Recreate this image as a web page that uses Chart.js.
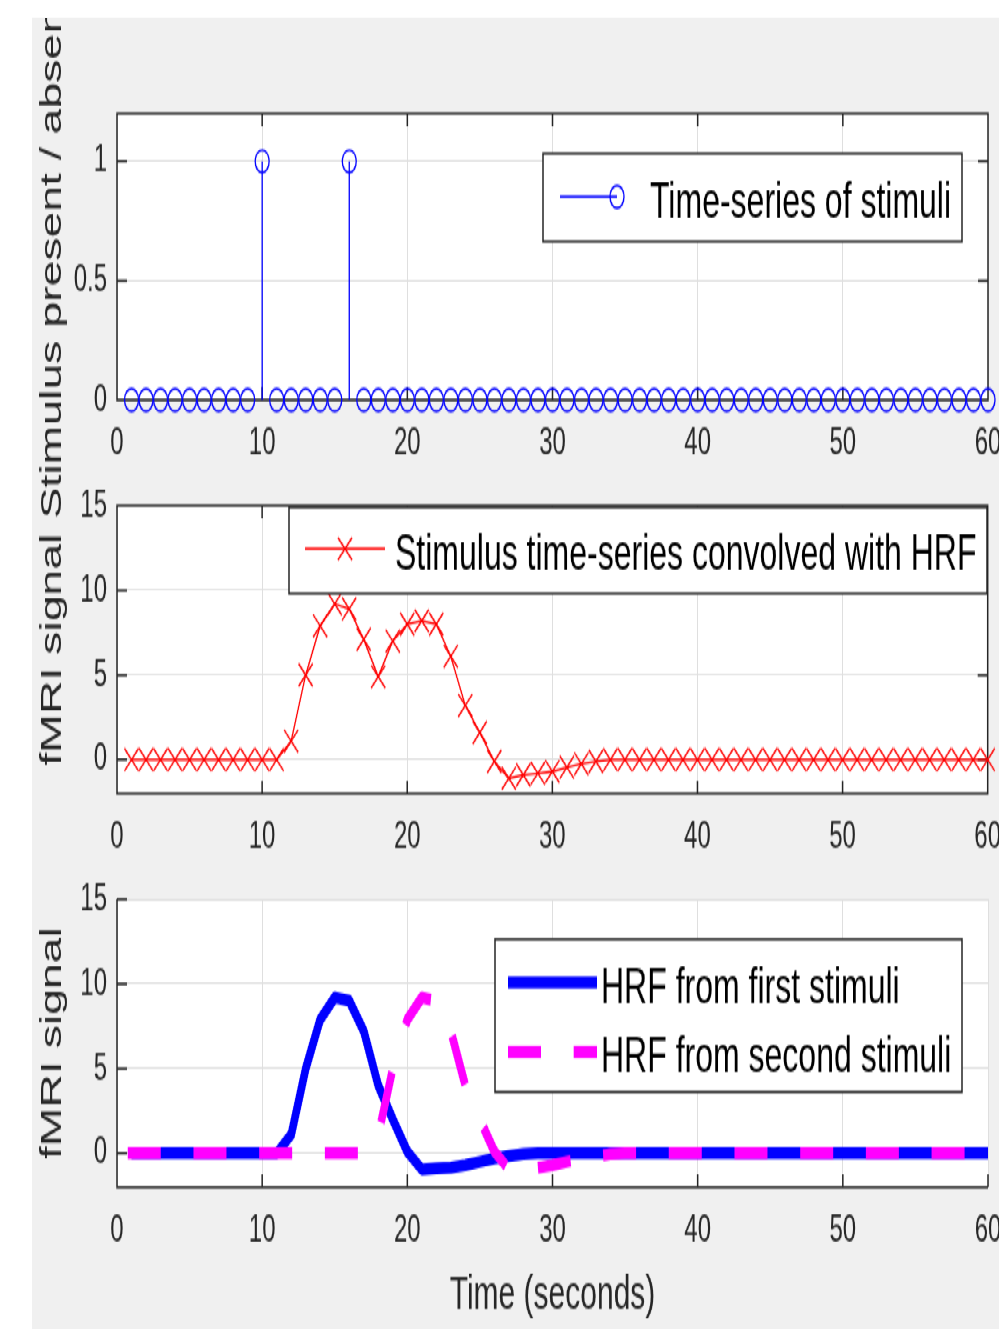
<!DOCTYPE html>
<html>
<head>
<meta charset="utf-8">
<title>Stimulus time-series and HRF</title>
<script src="https://cdn.jsdelivr.net/npm/chart.js@4.4.1/dist/chart.umd.min.js"></script>
<style>
  html, body { margin: 0; padding: 0; background: #fff; overflow: hidden; }
  /* the figure is laid out flat and stretched vertically, like the reference image */
  #fig { position: absolute; left: 0; top: 0; width: 999px; height: 831px; transform: scaleY(1.6); transform-origin: 0 0; }
  #bg { position: absolute; left: 32px; top: 10.6px; width: 967px; height: 821px; background: #f0f0f0; }
  #fig canvas { position: absolute; left: 0; }
</style>
</head>
<body>
<div id="fig">
  <div id="bg"></div>
  <canvas id="stimChart" width="999" height="319" style="top:11px"></canvas>
  <canvas id="convChart" width="999" height="260" style="top:296px"></canvas>
  <canvas id="hrfChart" width="999" height="289" style="top:542px"></canvas>
</div>
<script>
// ---- data (seconds 1..60) ----
const time = [1, 2, 3, 4, 5, 6, 7, 8, 9, 10, 11, 12, 13, 14, 15, 16, 17, 18, 19, 20,
              21, 22, 23, 24, 25, 26, 27, 28, 29, 30, 31, 32, 33, 34, 35, 36, 37, 38, 39, 40,
              41, 42, 43, 44, 45, 46, 47, 48, 49, 50, 51, 52, 53, 54, 55, 56, 57, 58, 59, 60];

const stimulus = [0, 0, 0, 0, 0, 0, 0, 0, 0, 1, 0, 0, 0, 0, 0, 1, 0, 0, 0, 0,
                  0, 0, 0, 0, 0, 0, 0, 0, 0, 0, 0, 0, 0, 0, 0, 0, 0, 0, 0, 0,
                  0, 0, 0, 0, 0, 0, 0, 0, 0, 0, 0, 0, 0, 0, 0, 0, 0, 0, 0, 0];

const convolved = [0, 0, 0, 0, 0, 0, 0, 0, 0, 0, 0, 1.1, 5.0, 7.9, 9.2, 8.9, 7.1, 4.9, 7.0, 8.0,
                   8.2, 8.0, 6.1, 3.2, 1.6, -0.1, -1.1, -0.9, -0.8, -0.7, -0.45, -0.25, -0.1, 0, 0, 0, 0, 0, 0, 0,
                   0, 0, 0, 0, 0, 0, 0, 0, 0, 0, 0, 0, 0, 0, 0, 0, 0, 0, 0, 0];

const hrfFirst = [0, 0, 0, 0, 0, 0, 0, 0, 0, 0, 0, 1.1, 5.0, 7.9, 9.2, 9.0, 7.2, 4.0, 2.0, 0.1,
                  -0.95, -0.9, -0.85, -0.7, -0.5, -0.3, -0.15, -0.05, 0, 0, 0, 0, 0, 0, 0, 0, 0, 0, 0, 0,
                  0, 0, 0, 0, 0, 0, 0, 0, 0, 0, 0, 0, 0, 0, 0, 0, 0, 0, 0, 0];

const hrfSecond = [0, 0, 0, 0, 0, 0, 0, 0, 0, 0, 0, 0, 0, 0, 0, 0, 0, 1.1, 5.0, 7.9,
                   9.2, 9.0, 7.2, 4.0, 2.0, 0.1, -0.95, -0.9, -0.85, -0.7, -0.5, -0.3, -0.15, -0.05, 0, 0, 0, 0, 0, 0,
                   0, 0, 0, 0, 0, 0, 0, 0, 0, 0, 0, 0, 0, 0, 0, 0, 0, 0, 0, 0];

const xTicks = [0, 10, 20, 30, 40, 50, 60];
const stimTicks = [0, 0.5, 1];
const signalTicks = [0, 5, 10, 15];

// ---- look ----
const AXIS_COLOR = '#262626';
const GRID_COLOR = '#dfdfdf';
const FONT = '"Liberation Sans", Arial, Helvetica, sans-serif';

const toPoints = (xs, ys) => xs.map((x, i) => ({x: x, y: ys[i]}));

// stem lines: 0 -> value, broken by nulls
function stemPoints(xs, ys) {
    const pts = [];
    xs.forEach((x, i) => {
        pts.push({x: x, y: 0}, {x: x, y: ys[i]}, {x: x, y: null});
    });
    return pts;
}

// MATLAB-like axes: white plot area, box, inside ticks, titles, legend
const matlabAxes = {
    id: 'matlabAxes',
    beforeDraw(chart) {
        const {ctx, chartArea: a} = chart;
        ctx.save();
        ctx.fillStyle = '#fff';
        ctx.fillRect(a.left, a.top, a.right - a.left, a.bottom - a.top);
        ctx.restore();
    },
    beforeDatasetsDraw(chart, args, opts) {
        const {ctx, chartArea: a} = chart;
        const xs = chart.scales.x, ys = chart.scales.y;
        ctx.save();
        ctx.strokeStyle = AXIS_COLOR;
        ctx.lineWidth = 1.5;
        ctx.beginPath();
        if (opts.box) {
            ctx.rect(a.left, a.top, a.right - a.left, a.bottom - a.top);
        } else {
            ctx.moveTo(a.left, a.top);
            ctx.lineTo(a.left, a.bottom);
            ctx.lineTo(a.right, a.bottom);
        }
        xs.ticks.forEach(t => {
            const px = xs.getPixelForValue(t.value);
            ctx.moveTo(px, a.bottom); ctx.lineTo(px, a.bottom - 8);
            if (opts.box) { ctx.moveTo(px, a.top); ctx.lineTo(px, a.top + 8); }
        });
        ys.ticks.forEach(t => {
            const py = ys.getPixelForValue(t.value);
            ctx.moveTo(a.left, py); ctx.lineTo(a.left + 10, py);
            if (opts.box) { ctx.moveTo(a.right, py); ctx.lineTo(a.right - 10, py); }
        });
        ctx.stroke();
        ctx.restore();
    },
    afterDraw(chart, args, opts) {
        const {ctx, chartArea: a} = chart;
        ctx.save();
        ctx.fillStyle = AXIS_COLOR;
        // y title
        if (opts.yTitle) {
            ctx.save();
            ctx.font = '29px ' + FONT;
            ctx.textAlign = 'center';
            ctx.textBaseline = 'alphabetic';
            ctx.translate(61, (a.top + a.bottom) / 2);
            ctx.rotate(-Math.PI / 2);
            ctx.fillText(opts.yTitle, 0, 0);
            ctx.restore();
        }
        // x title
        if (opts.xTitle) {
            ctx.font = '30px ' + FONT;
            ctx.textAlign = 'center';
            ctx.textBaseline = 'alphabetic';
            ctx.fillText(opts.xTitle, (a.left + a.right) / 2, a.bottom + 75.6);
        }
        // legend
        const lg = opts.legend;
        if (lg) {
            const top = a.top + lg.top, bottom = a.top + lg.bottom;
            ctx.fillStyle = '#fff';
            ctx.fillRect(lg.left, top, lg.right - lg.left, bottom - top);
            ctx.strokeStyle = AXIS_COLOR;
            ctx.lineWidth = 1.5;
            ctx.strokeRect(lg.left, top, lg.right - lg.left, bottom - top);
            lg.items.forEach(item => {
                const y = a.top + item.y;
                const lineDs = chart.data.datasets[item.line];
                ctx.save();
                ctx.strokeStyle = lineDs.borderColor;
                ctx.lineWidth = lineDs.borderWidth;
                ctx.lineCap = lineDs.borderCapStyle || 'butt';
                ctx.setLineDash(lineDs.borderDash || []);
                ctx.beginPath();
                ctx.moveTo(item.x0, y);
                ctx.lineTo(item.x1, y);
                ctx.stroke();
                ctx.restore();
                if (item.marker !== undefined) {
                    const mDs = chart.data.datasets[item.marker];
                    ctx.save();
                    ctx.strokeStyle = mDs.pointBorderColor;
                    ctx.fillStyle = 'rgba(0,0,0,0)';
                    ctx.lineWidth = mDs.pointBorderWidth;
                    Chart.helpers.drawPoint(ctx, {
                        pointStyle: mDs.pointStyle, radius: mDs.pointRadius,
                        borderWidth: mDs.pointBorderWidth, rotation: 0
                    }, item.mx, y);
                    ctx.restore();
                }
                ctx.fillStyle = '#000';
                ctx.font = '32px ' + FONT;
                ctx.textAlign = 'left';
                ctx.textBaseline = 'alphabetic';
                ctx.fillText(item.text, lg.textX, y + 12.5);
            });
        }
        ctx.restore();
    }
};

function axisOptions(yMin, yMax, yTickValues) {
    const tickFont = {family: FONT, size: 24};
    return {
        x: {
            type: 'linear', min: 0, max: 60, offset: false,
            afterBuildTicks: s => { s.ticks = xTicks.map(v => ({value: v})); },
            afterFit: s => { s.height = 60; s.paddingLeft = 0; s.paddingRight = 0; },
            grid: {color: GRID_COLOR, lineWidth: 1, drawTicks: false, offset: false},
            border: {display: false},
            ticks: {color: AXIS_COLOR, font: tickFont, padding: 13, maxRotation: 0, autoSkip: false,
                    callback: v => String(v)}
        },
        y: {
            type: 'linear', min: yMin, max: yMax,
            afterBuildTicks: s => { s.ticks = yTickValues.map(v => ({value: v})); },
            afterFit: s => { s.width = 117; s.paddingTop = 0; s.paddingBottom = 0; },
            grid: {color: GRID_COLOR, lineWidth: 1, drawTicks: false},
            border: {display: false},
            ticks: {color: AXIS_COLOR, font: tickFont, padding: 10, callback: v => String(v)}
        }
    };
}

function makeChart(canvasId, datasets, scales, padding, axesOpts) {
    return new Chart(document.getElementById(canvasId), {
        type: 'line',
        data: {datasets: datasets},
        options: {
            responsive: false,
            animation: false,
            events: [],
            layout: {padding: padding},
            scales: scales,
            plugins: {
                legend: {display: false},
                tooltip: {enabled: false},
                matlabAxes: axesOpts
            }
        },
        plugins: [matlabAxes]
    });
}

// ---- top: stem plot of stimuli ----
makeChart('stimChart', [
    {
        data: toPoints(time, stimulus),
        showLine: false, clip: false,
        pointStyle: 'circle', pointRadius: 7, pointBorderWidth: 1.3,
        pointBorderColor: '#0000ff', pointBackgroundColor: 'rgba(0,0,0,0)'
    },
    {
        data: stemPoints(time, stimulus),
        borderColor: '#0000ff', borderWidth: 1.3, pointRadius: 0, spanGaps: false, clip: false
    }
], axisOptions(0, 1.2, stimTicks), {left: 0, right: 11, top: 60, bottom: 20}, {
    box: true,
    yTitle: 'Stimulus present / absent',
    legend: {
        left: 543, right: 962, top: 25, bottom: 80, textX: 650,
        items: [{y: 52, x0: 560, x1: 617, line: 1, marker: 0, mx: 617, text: 'Time-series of stimuli'}]
    }
});

// ---- middle: convolved signal ----
makeChart('convChart', [
    {
        data: toPoints(time, convolved),
        borderColor: '#ff0000', borderWidth: 1.3, clip: false,
        pointStyle: 'crossRot', pointRadius: 10, pointBorderWidth: 1.3,
        pointBorderColor: '#ff0000', pointBackgroundColor: '#ff0000'
    }
], axisOptions(-2, 15, signalTicks), {left: 0, right: 11, top: 20, bottom: 0}, {
    box: true,
    yTitle: 'fMRI signal',
    legend: {
        left: 289, right: 987, top: 1, bottom: 55, textX: 395,
        items: [{y: 27, x0: 305, x1: 385, line: 0, marker: 0, mx: 345, text: 'Stimulus time-series convolved with HRF'}]
    }
});

// ---- bottom: the two HRFs ----
makeChart('hrfChart', [
    {
        data: toPoints(time, hrfSecond),
        borderColor: '#ff00ff', borderWidth: 7.5, borderDash: [25.5, 40.2],
        borderCapStyle: 'square', borderJoinStyle: 'round', pointRadius: 0, clip: false
    },
    {
        data: toPoints(time, hrfFirst),
        borderColor: '#0000ff', borderWidth: 7.5, borderJoinStyle: 'round',
        pointRadius: 0, clip: false
    }
], axisOptions(-2, 15, signalTicks), {left: 0, right: 11, top: 20, bottom: 29}, {
    box: false,
    yTitle: 'fMRI signal',
    xTitle: 'Time (seconds)',
    legend: {
        left: 495, right: 962, top: 25, bottom: 120.5, textX: 601,
        items: [
            {y: 52, x0: 508, x1: 597, line: 1, text: 'HRF from first stimuli'},
            {y: 95.5, x0: 511.75, x1: 593.25, line: 0, text: 'HRF from second stimuli'}
        ]
    }
});
</script>
</body>
</html>
